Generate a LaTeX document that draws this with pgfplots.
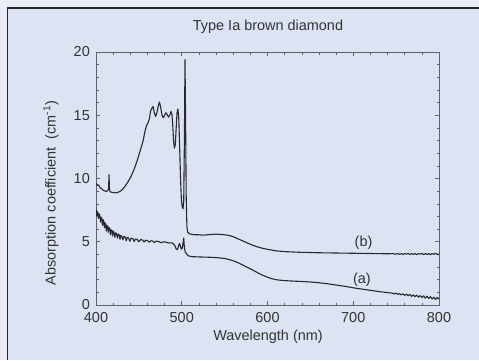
\documentclass[border=0pt]{standalone}
\usepackage{pgfplots}
\pgfplotsset{compat=1.18}
\usepackage{fontspec}
\setmainfont{Liberation Sans}
\definecolor{paper}{RGB}{220,227,242}
\definecolor{edge}{RGB}{234,237,246}
\definecolor{ink}{RGB}{40,40,46}
\definecolor{frame}{RGB}{95,98,108}

% curve (b): upper spectrum
\pgfplotstableread{
x y
400 9.62
401.5 9.45
403 9.50
404.5 9.30
406 9.22
408 9.10
410 9.02
412 8.98
414 9.05
414.7 9.3
415.2 10.3
415.7 9.2
416.5 8.95
418 8.92
420 8.88
422 8.90
424 8.86
426 8.92
428 8.98
430 9.08
433 9.30
436 9.60
440 10.05
444 10.65
448 11.40
452 12.30
455 13.00
457 13.70
459 14.20
461 14.45
462.5 14.80
463.5 15.30
465 15.55
466.5 15.70
468 15.20
469.5 14.90
471 15.20
472.5 15.70
474 16.05
475.5 15.60
477 15.00
478.5 14.80
480 15.00
481.5 15.20
483 15.05
484.5 14.85
486 15.00
487.5 15.30
488.5 15.10
489.5 14.20
490.5 12.90
491.5 12.40
492.5 12.70
493.5 14.00
494.5 15.20
495.5 15.50
496.5 14.80
497.5 12.60
498.5 10.20
499.5 8.40
500.5 7.80
501.5 7.60
502.3 8.20
503 12.50
503.8 19.40
504.5 14.50
505.2 8.50
506 6.20
507 5.75
509 5.62
512 5.58
516 5.55
520 5.55
525 5.52
530 5.55
535 5.58
540 5.60
545 5.58
550 5.55
555 5.50
560 5.40
565 5.25
570 5.10
575 4.95
580 4.80
585 4.67
590 4.56
595 4.47
600 4.40
605 4.34
610 4.28
620 4.22
630 4.19
640 4.16
650 4.15
660 4.13
670 4.12
680 4.11
690 4.10
700 4.09
710 4.08
720 4.07
730 4.06
740 4.05
746 4.06
750 4.02
752 4.07
754 4.01
756 4.06
758 4.00
760 4.07
762 4.02
764 4.08
766 3.99
768 4.06
770 4.01
772 4.07
774 3.98
776 4.06
778 4.02
780 4.08
782 3.99
784 4.06
786 4.00
788 4.07
790 3.98
792 4.06
794 4.01
796 4.08
798 3.99
800 4.04
}\curveB

% curve (a): lower spectrum
\pgfplotstableread{
x y
400 7.60
400.8 7.05
401.5 7.40
402.3 7.25
403 6.85
403.8 7.20
404.5 7.05
405.3 6.55
406 6.95
406.8 6.85
407.5 6.30
408.3 6.75
409 6.60
409.8 6.10
410.5 6.50
411.3 6.40
412 5.85
412.8 6.30
413.5 6.20
414.3 5.75
415 6.15
416 6.05
416.8 5.55
417.5 5.95
418.5 5.90
419.3 5.45
420 5.85
421 5.75
422 5.35
423 5.70
424 5.65
425 5.28
426 5.60
427 5.55
428 5.20
429 5.50
430 5.45
431.3 5.15
432.5 5.42
434 5.38
435.3 5.08
436.5 5.35
438 5.30
439.5 5.04
441 5.28
443 5.25
444.5 5.02
446 5.22
448 5.20
450 5.00
452 5.17
454 5.15
456 4.98
458 5.12
460 5.10
462 4.96
464 5.08
466 5.06
468 4.94
470 5.05
473 5.02
476 4.92
479 5.00
482 4.96
485 4.90
488 4.92
490 4.85
492 4.70
493.5 4.42
495 4.38
496.5 4.72
497.5 4.88
498.5 4.62
499.5 4.42
500.5 4.48
501.5 4.88
502.3 5.30
503 4.60
504 4.20
506 4.00
508 3.88
512 3.82
520 3.80
530 3.78
540 3.75
550 3.68
555 3.60
560 3.50
565 3.36
570 3.20
575 3.03
580 2.86
585 2.68
590 2.50
595 2.33
600 2.20
605 2.08
610 2.00
615 1.96
620 1.93
630 1.89
640 1.86
650 1.82
660 1.76
670 1.68
680 1.58
690 1.48
700 1.36
710 1.26
720 1.16
730 1.06
740 0.98
745 0.94
748 0.88
750 0.94
752 0.84
754 0.90
756 0.80
758 0.88
760 0.76
762 0.86
764 0.74
766 0.84
768 0.68
770 0.80
772 0.66
774 0.78
776 0.62
778 0.74
780 0.60
782 0.72
784 0.54
786 0.70
788 0.52
790 0.66
792 0.48
794 0.62
796 0.44
798 0.60
800 0.46
}\curveA

\begin{document}
\begin{tikzpicture}[x=1bp,y=1bp]
  \path[use as bounding box] (0,0) rectangle (479,360);
  \fill[edge] (0,0) rectangle (479,360);
  \fill[paper] (7.5,0) rectangle (479,352);
  \draw[black!85,line width=1.6bp] (7.5,0) -- (7.5,352) -- (479,352);

  \begin{axis}[
    at={(96bp,55bp)}, anchor=south west,
    scale only axis,
    width=343bp, height=253bp,
    xmin=400, xmax=800, ymin=0, ymax=20,
    xtick={400,500,...,800},
    ytick={0,5,...,20},
    minor x tick num=4,
    minor y tick num=4,
    tick align=inside,
    major tick length=4bp,
    minor tick length=2.5bp,
    axis line style={frame,line width=0.7bp},
    every tick/.style={frame,line width=0.6bp},
    tick label style={font=\fontsize{14.5}{16}\selectfont, text=black!80, inner sep=1bp},
    /pgf/number format/assume math mode=true,
    xticklabel style={anchor=center, yshift=-13bp},
    yticklabel style={anchor=east, xshift=-5bp},
    axis background/.style={fill=paper},
  ]
    \addplot[ink, line width=1.1bp, line join=round] table {\curveB};
    \addplot[ink, line width=1.1bp, line join=round] table {\curveA};
    \node[font=\fontsize{14.5}{16}\selectfont, text=black!80] at (axis cs:712,4.9) {(b)};
    \node[font=\fontsize{14.5}{16}\selectfont, text=black!80] at (axis cs:710,2.0) {(a)};
  \end{axis}

  \node[font=\fontsize{14.5}{16}\selectfont, text=black!80] at (268,333) {Type Ia brown diamond};
  \node[font=\fontsize{14.5}{16}\selectfont, text=black!80] at (268,23) {Wavelength (nm)};
  \node[font=\fontsize{14.5}{16}\selectfont, text=black!80, rotate=90] at (51,167) {Absorption coefficient\ \ (cm\textsuperscript{-1})};
\end{tikzpicture}
\end{document}
